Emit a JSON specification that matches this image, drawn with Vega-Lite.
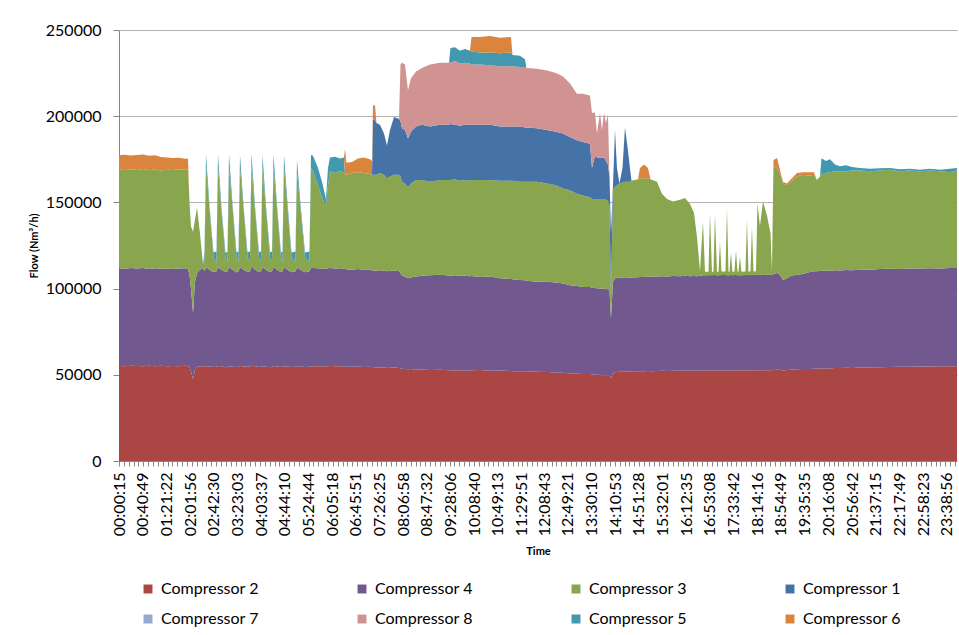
{
"$schema":"https://vega.github.io/schema/vega-lite/v6.json",
"width":838,"height":431,
"autosize":{"type":"none"},
"padding":{"left":119,"top":30,"right":2,"bottom":174},
"background":"white",
"config":{"font":"Lato","view":{"stroke":null}},
"datasets":{
"series":[
{"key":"c2","name":"Compressor 2","rank":1},
{"key":"c4","name":"Compressor 4","rank":2},
{"key":"c3","name":"Compressor 3","rank":3},
{"key":"c1","name":"Compressor 1","rank":4},
{"key":"c7","name":"Compressor 7","rank":5},
{"key":"c8","name":"Compressor 8","rank":6},
{"key":"c5","name":"Compressor 5","rank":7},
{"key":"c6","name":"Compressor 6","rank":8}],
"flows":[
{"t":0,"c2":55200,"c4":56600,"c3":57400,"c1":0,"c7":0,"c8":0,"c5":0,"c6":8100},
{"t":617,"c2":55000,"c4":56500,"c3":57100,"c1":0,"c7":0,"c8":0,"c5":0,"c6":9000},
{"t":1234,"c2":55300,"c4":56700,"c3":57300,"c1":0,"c7":0,"c8":0,"c5":0,"c6":7900},
{"t":1851,"c2":55100,"c4":56500,"c3":57200,"c1":0,"c7":0,"c8":0,"c5":0,"c6":8700},
{"t":2469,"c2":54900,"c4":57000,"c3":57500,"c1":0,"c7":0,"c8":0,"c5":0,"c6":8400},
{"t":3086,"c2":55200,"c4":56200,"c3":57300,"c1":0,"c7":0,"c8":0,"c5":0,"c6":8300},
{"t":3703,"c2":55000,"c4":56800,"c3":57300,"c1":0,"c7":0,"c8":0,"c5":0,"c6":8300},
{"t":4320,"c2":55300,"c4":56200,"c3":57000,"c1":0,"c7":0,"c8":0,"c5":0,"c6":7900},
{"t":4937,"c2":54900,"c4":56800,"c3":57300,"c1":0,"c7":0,"c8":0,"c5":0,"c6":7000},
{"t":5554,"c2":55100,"c4":56200,"c3":57500,"c1":0,"c7":0,"c8":0,"c5":0,"c6":6900},
{"t":6172,"c2":55000,"c4":56600,"c3":57600,"c1":0,"c7":0,"c8":0,"c5":0,"c6":6700},
{"t":6789,"c2":55200,"c4":56600,"c3":57100,"c1":0,"c7":0,"c8":0,"c5":0,"c6":6400},
{"t":7097,"c2":55000,"c4":56500,"c3":57500,"c1":0,"c7":0,"c8":0,"c5":0,"c6":6500},
{"t":7252,"c2":54500,"c4":53500,"c3":42000,"c1":0,"c7":0,"c8":0,"c5":0,"c6":0},
{"t":7406,"c2":52000,"c4":48000,"c3":36000,"c1":0,"c7":0,"c8":0,"c5":0,"c6":0},
{"t":7612,"c2":47500,"c4":38500,"c3":47000,"c1":0,"c7":0,"c8":0,"c5":0,"c6":0},
{"t":7817,"c2":53000,"c4":51000,"c3":36000,"c1":0,"c7":0,"c8":0,"c5":0,"c6":0},
{"t":8023,"c2":54500,"c4":54500,"c3":38000,"c1":0,"c7":0,"c8":0,"c5":0,"c6":0},
{"t":8332,"c2":55000,"c4":56000,"c3":21000,"c1":0,"c7":0,"c8":0,"c5":0,"c6":0},
{"t":8640,"c2":55000,"c4":57000,"c3":2000,"c1":0,"c7":0,"c8":0,"c5":0,"c6":0},
{"t":8795,"c2":54600,"c4":55400,"c3":5500,"c1":0,"c7":0,"c8":0,"c5":6000,"c6":0},
{"t":8949,"c2":55000,"c4":57500,"c3":58500,"c1":0,"c7":0,"c8":0,"c5":7000,"c6":0},
{"t":9309,"c2":54800,"c4":56200,"c3":35000,"c1":0,"c7":0,"c8":0,"c5":2000,"c6":0},
{"t":9720,"c2":54500,"c4":55000,"c3":8500,"c1":0,"c7":0,"c8":0,"c5":3000,"c6":0},
{"t":10029,"c2":54700,"c4":55300,"c3":5200,"c1":0,"c7":0,"c8":0,"c5":6300,"c6":0},
{"t":10183,"c2":55100,"c4":57300,"c3":58000,"c1":0,"c7":0,"c8":0,"c5":7200,"c6":0},
{"t":10543,"c2":54900,"c4":56000,"c3":34000,"c1":0,"c7":0,"c8":0,"c5":2000,"c6":0},
{"t":10955,"c2":54400,"c4":55100,"c3":8000,"c1":0,"c7":0,"c8":0,"c5":3200,"c6":0},
{"t":11160,"c2":54600,"c4":55500,"c3":5600,"c1":0,"c7":0,"c8":0,"c5":5800,"c6":0},
{"t":11315,"c2":54900,"c4":57600,"c3":58300,"c1":0,"c7":0,"c8":0,"c5":7000,"c6":0},
{"t":11675,"c2":54700,"c4":56300,"c3":36000,"c1":0,"c7":0,"c8":0,"c5":2200,"c6":0},
{"t":12086,"c2":54500,"c4":54900,"c3":8700,"c1":0,"c7":0,"c8":0,"c5":2800,"c6":0},
{"t":12292,"c2":54700,"c4":55400,"c3":5400,"c1":0,"c7":0,"c8":0,"c5":6100,"c6":0},
{"t":12446,"c2":55200,"c4":57400,"c3":57800,"c1":0,"c7":0,"c8":0,"c5":7100,"c6":0},
{"t":12806,"c2":54800,"c4":56100,"c3":35500,"c1":0,"c7":0,"c8":0,"c5":2000,"c6":0},
{"t":13218,"c2":54600,"c4":55000,"c3":8300,"c1":0,"c7":0,"c8":0,"c5":3000,"c6":0},
{"t":13475,"c2":54800,"c4":55300,"c3":5500,"c1":0,"c7":0,"c8":0,"c5":6000,"c6":0},
{"t":13629,"c2":55300,"c4":57500,"c3":58500,"c1":0,"c7":0,"c8":0,"c5":7000,"c6":0},
{"t":13989,"c2":54900,"c4":56200,"c3":34500,"c1":0,"c7":0,"c8":0,"c5":2100,"c6":0},
{"t":14400,"c2":54500,"c4":55000,"c3":8600,"c1":0,"c7":0,"c8":0,"c5":3000,"c6":0},
{"t":14606,"c2":54600,"c4":55500,"c3":5300,"c1":0,"c7":0,"c8":0,"c5":6200,"c6":0},
{"t":14760,"c2":55000,"c4":57400,"c3":58000,"c1":0,"c7":0,"c8":0,"c5":7100,"c6":0},
{"t":15120,"c2":54700,"c4":56100,"c3":35000,"c1":0,"c7":0,"c8":0,"c5":2000,"c6":0},
{"t":15532,"c2":54400,"c4":55100,"c3":8400,"c1":0,"c7":0,"c8":0,"c5":3000,"c6":0},
{"t":15738,"c2":54700,"c4":55400,"c3":5500,"c1":0,"c7":0,"c8":0,"c5":6000,"c6":0},
{"t":15892,"c2":55100,"c4":57500,"c3":58200,"c1":0,"c7":0,"c8":0,"c5":7000,"c6":0},
{"t":16252,"c2":54800,"c4":56200,"c3":35500,"c1":0,"c7":0,"c8":0,"c5":2000,"c6":0},
{"t":16663,"c2":54500,"c4":55000,"c3":8500,"c1":0,"c7":0,"c8":0,"c5":3000,"c6":0},
{"t":16818,"c2":54600,"c4":55400,"c3":5600,"c1":0,"c7":0,"c8":0,"c5":6000,"c6":0},
{"t":16972,"c2":55000,"c4":57500,"c3":58000,"c1":0,"c7":0,"c8":0,"c5":7000,"c6":0},
{"t":17332,"c2":54800,"c4":56200,"c3":36000,"c1":0,"c7":0,"c8":0,"c5":3000,"c6":0},
{"t":17743,"c2":54500,"c4":55000,"c3":8500,"c1":0,"c7":0,"c8":0,"c5":3000,"c6":0},
{"t":18155,"c2":54600,"c4":55400,"c3":5500,"c1":0,"c7":0,"c8":0,"c5":6000,"c6":0},
{"t":18309,"c2":55000,"c4":57300,"c3":55500,"c1":0,"c7":0,"c8":0,"c5":7000,"c6":0},
{"t":18669,"c2":54800,"c4":56200,"c3":35000,"c1":0,"c7":0,"c8":0,"c5":3000,"c6":0},
{"t":19132,"c2":54500,"c4":55000,"c3":8500,"c1":0,"c7":0,"c8":0,"c5":3000,"c6":0},
{"t":19595,"c2":54600,"c4":55400,"c3":5500,"c1":0,"c7":0,"c8":0,"c5":6000,"c6":0},
{"t":19749,"c2":55000,"c4":57000,"c3":58000,"c1":0,"c7":0,"c8":0,"c5":7500,"c6":0},
{"t":19955,"c2":55000,"c4":57000,"c3":56000,"c1":0,"c7":0,"c8":0,"c5":9000,"c6":0},
{"t":20469,"c2":55000,"c4":56800,"c3":48200,"c1":0,"c7":0,"c8":0,"c5":10000,"c6":0},
{"t":20880,"c2":54800,"c4":56700,"c3":41500,"c1":0,"c7":0,"c8":0,"c5":9000,"c6":0},
{"t":21292,"c2":55000,"c4":56700,"c3":36300,"c1":0,"c7":0,"c8":0,"c5":4000,"c6":0},
{"t":21497,"c2":55000,"c4":56800,"c3":48200,"c1":0,"c7":0,"c8":0,"c5":10000,"c6":0},
{"t":21703,"c2":55100,"c4":56900,"c3":56000,"c1":0,"c7":0,"c8":0,"c5":8000,"c6":0},
{"t":22218,"c2":54900,"c4":56700,"c3":55400,"c1":0,"c7":0,"c8":0,"c5":9500,"c6":0},
{"t":22732,"c2":55000,"c4":56800,"c3":56200,"c1":0,"c7":0,"c8":0,"c5":7500,"c6":0},
{"t":23144,"c2":54800,"c4":56700,"c3":56000,"c1":0,"c7":0,"c8":0,"c5":8500,"c6":0},
{"t":23246,"c2":54900,"c4":56500,"c3":54600,"c1":0,"c7":0,"c8":0,"c5":0,"c6":15000},
{"t":23401,"c2":54700,"c4":56500,"c3":54800,"c1":0,"c7":0,"c8":0,"c5":0,"c6":7000},
{"t":23966,"c2":54600,"c4":56400,"c3":56000,"c1":0,"c7":0,"c8":0,"c5":0,"c6":6500},
{"t":24583,"c2":54800,"c4":56500,"c3":56200,"c1":0,"c7":0,"c8":0,"c5":0,"c6":8000},
{"t":25201,"c2":54500,"c4":56300,"c3":56200,"c1":0,"c7":0,"c8":0,"c5":0,"c6":9000},
{"t":25818,"c2":54600,"c4":56300,"c3":55600,"c1":0,"c7":0,"c8":0,"c5":0,"c6":8500},
{"t":26023,"c2":54500,"c4":56100,"c3":55400,"c1":0,"c7":0,"c8":0,"c5":0,"c6":8000},
{"t":26126,"c2":54500,"c4":56000,"c3":55500,"c1":32000,"c7":0,"c8":0,"c5":0,"c6":8000},
{"t":26332,"c2":54300,"c4":56100,"c3":55600,"c1":32000,"c7":0,"c8":0,"c5":0,"c6":8500},
{"t":26486,"c2":54400,"c4":56100,"c3":55500,"c1":30000,"c7":0,"c8":0,"c5":0,"c6":0},
{"t":26846,"c2":54200,"c4":56400,"c3":56400,"c1":28000,"c7":0,"c8":0,"c5":0,"c6":0},
{"t":27258,"c2":54300,"c4":56100,"c3":55600,"c1":24000,"c7":0,"c8":0,"c5":0,"c6":0},
{"t":27566,"c2":54000,"c4":56000,"c3":54000,"c1":19000,"c7":0,"c8":0,"c5":0,"c6":0},
{"t":27875,"c2":54100,"c4":56200,"c3":54700,"c1":27000,"c7":0,"c8":0,"c5":0,"c6":0},
{"t":28287,"c2":54200,"c4":56300,"c3":55500,"c1":33500,"c7":0,"c8":0,"c5":0,"c6":0},
{"t":28801,"c2":54000,"c4":56200,"c3":55800,"c1":32500,"c7":0,"c8":0,"c5":0,"c6":0},
{"t":28955,"c2":53800,"c4":55200,"c3":56000,"c1":32000,"c7":0,"c8":33000,"c5":0,"c6":0},
{"t":29109,"c2":53500,"c4":54000,"c3":54500,"c1":31000,"c7":0,"c8":38000,"c5":0,"c6":0},
{"t":29418,"c2":53400,"c4":53600,"c3":54000,"c1":31000,"c7":0,"c8":38000,"c5":0,"c6":0},
{"t":29727,"c2":53200,"c4":52800,"c3":53000,"c1":28000,"c7":0,"c8":28000,"c5":0,"c6":0},
{"t":30035,"c2":53300,"c4":53200,"c3":54500,"c1":30000,"c7":0,"c8":31000,"c5":0,"c6":0},
{"t":30549,"c2":53000,"c4":54000,"c3":56000,"c1":31000,"c7":0,"c8":32000,"c5":0,"c6":0},
{"t":31167,"c2":53100,"c4":54400,"c3":55500,"c1":32000,"c7":0,"c8":33000,"c5":0,"c6":0},
{"t":31989,"c2":52800,"c4":55000,"c3":54200,"c1":32000,"c7":0,"c8":36000,"c5":0,"c6":0},
{"t":33018,"c2":52900,"c4":55100,"c3":55000,"c1":32000,"c7":0,"c8":36000,"c5":0,"c6":0},
{"t":33944,"c2":52600,"c4":55000,"c3":55400,"c1":32000,"c7":0,"c8":36000,"c5":0,"c6":0},
{"t":34098,"c2":52700,"c4":54800,"c3":55500,"c1":32500,"c7":0,"c8":35500,"c5":8500,"c6":0},
{"t":34561,"c2":52500,"c4":55300,"c3":55700,"c1":31500,"c7":0,"c8":37000,"c5":8000,"c6":0},
{"t":35075,"c2":52600,"c4":54800,"c3":55100,"c1":32000,"c7":0,"c8":36000,"c5":7500,"c6":0},
{"t":35590,"c2":52400,"c4":55100,"c3":55500,"c1":32000,"c7":0,"c8":36000,"c5":8000,"c6":0},
{"t":36104,"c2":52500,"c4":54700,"c3":55300,"c1":32500,"c7":0,"c8":35500,"c5":7500,"c6":0},
{"t":36258,"c2":52600,"c4":54700,"c3":55700,"c1":32000,"c7":0,"c8":35000,"c5":7500,"c6":8500},
{"t":37132,"c2":52800,"c4":54000,"c3":56200,"c1":32000,"c7":0,"c8":35000,"c5":7000,"c6":9000},
{"t":38161,"c2":52400,"c4":54600,"c3":56000,"c1":32000,"c7":0,"c8":34500,"c5":7500,"c6":9500},
{"t":39190,"c2":52500,"c4":53500,"c3":56500,"c1":31500,"c7":0,"c8":35000,"c5":7500,"c6":9000},
{"t":40321,"c2":52200,"c4":53300,"c3":57000,"c1":31500,"c7":0,"c8":35000,"c5":8000,"c6":9000},
{"t":40475,"c2":52100,"c4":53300,"c3":57100,"c1":31500,"c7":0,"c8":35000,"c5":6500,"c6":0},
{"t":41247,"c2":52000,"c4":53000,"c3":57000,"c1":32000,"c7":0,"c8":34500,"c5":6500,"c6":0},
{"t":41761,"c2":52100,"c4":52700,"c3":57200,"c1":31500,"c7":0,"c8":35000,"c5":4500,"c6":0},
{"t":41915,"c2":52000,"c4":52600,"c3":57400,"c1":31500,"c7":0,"c8":34500,"c5":0,"c6":0},
{"t":42995,"c2":51800,"c4":52200,"c3":58000,"c1":31000,"c7":0,"c8":34500,"c5":0,"c6":0},
{"t":44024,"c2":51600,"c4":52400,"c3":57000,"c1":31000,"c7":0,"c8":34500,"c5":0,"c6":0},
{"t":44950,"c2":51400,"c4":52100,"c3":56500,"c1":31000,"c7":0,"c8":34000,"c5":0,"c6":0},
{"t":45670,"c2":51200,"c4":51800,"c3":55000,"c1":32000,"c7":0,"c8":33000,"c5":0,"c6":0},
{"t":46390,"c2":50800,"c4":51200,"c3":55000,"c1":31000,"c7":0,"c8":31000,"c5":0,"c6":0},
{"t":47110,"c2":50600,"c4":50900,"c3":53500,"c1":31000,"c7":0,"c8":27000,"c5":0,"c6":0},
{"t":47727,"c2":50500,"c4":50500,"c3":53000,"c1":31000,"c7":0,"c8":28000,"c5":0,"c6":0},
{"t":48447,"c2":50400,"c4":50600,"c3":52000,"c1":31000,"c7":0,"c8":28000,"c5":0,"c6":0},
{"t":48653,"c2":50200,"c4":50300,"c3":51500,"c1":18000,"c7":0,"c8":32000,"c5":0,"c6":0},
{"t":48961,"c2":50000,"c4":50300,"c3":51700,"c1":25000,"c7":0,"c8":25000,"c5":0,"c6":0},
{"t":49167,"c2":50000,"c4":50200,"c3":51800,"c1":24000,"c7":0,"c8":14000,"c5":0,"c6":0},
{"t":49476,"c2":49900,"c4":50100,"c3":52000,"c1":24000,"c7":0,"c8":26000,"c5":0,"c6":0},
{"t":49681,"c2":49800,"c4":50200,"c3":52000,"c1":24000,"c7":0,"c8":16000,"c5":0,"c6":0},
{"t":49887,"c2":49800,"c4":50200,"c3":52000,"c1":24000,"c7":0,"c8":26000,"c5":0,"c6":0},
{"t":50093,"c2":49700,"c4":50100,"c3":51700,"c1":22500,"c7":0,"c8":22000,"c5":0,"c6":0},
{"t":50299,"c2":49600,"c4":49900,"c3":51500,"c1":21000,"c7":0,"c8":29000,"c5":0,"c6":0},
{"t":50453,"c2":49500,"c4":49500,"c3":49000,"c1":17000,"c7":0,"c8":0,"c5":0,"c6":0},
{"t":50607,"c2":48000,"c4":35000,"c3":12000,"c1":37000,"c7":0,"c8":0,"c5":0,"c6":0},
{"t":50813,"c2":51000,"c4":53000,"c3":53000,"c1":3000,"c7":0,"c8":0,"c5":0,"c6":0},
{"t":51019,"c2":51500,"c4":54500,"c3":53000,"c1":33000,"c7":0,"c8":0,"c5":0,"c6":0},
{"t":51224,"c2":51600,"c4":54600,"c3":53800,"c1":10000,"c7":0,"c8":0,"c5":0,"c6":0},
{"t":51481,"c2":51700,"c4":54700,"c3":54600,"c1":0,"c7":0,"c8":0,"c5":0,"c6":0},
{"t":51790,"c2":51800,"c4":54700,"c3":55000,"c1":8500,"c7":0,"c8":0,"c5":0,"c6":0},
{"t":52047,"c2":51800,"c4":54800,"c3":55400,"c1":31500,"c7":0,"c8":0,"c5":0,"c6":0},
{"t":52356,"c2":51900,"c4":54600,"c3":55500,"c1":18000,"c7":0,"c8":0,"c5":0,"c6":0},
{"t":52561,"c2":51900,"c4":54500,"c3":55600,"c1":8000,"c7":0,"c8":0,"c5":0,"c6":0},
{"t":52716,"c2":52000,"c4":54500,"c3":56000,"c1":0,"c7":0,"c8":0,"c5":0,"c6":0},
{"t":53385,"c2":52000,"c4":54600,"c3":56900,"c1":0,"c7":0,"c8":0,"c5":0,"c6":0},
{"t":53590,"c2":52100,"c4":54700,"c3":57200,"c1":0,"c7":0,"c8":0,"c5":0,"c6":6000},
{"t":54002,"c2":52000,"c4":54700,"c3":57300,"c1":0,"c7":0,"c8":0,"c5":0,"c6":8000},
{"t":54413,"c2":52200,"c4":54700,"c3":57100,"c1":0,"c7":0,"c8":0,"c5":0,"c6":6000},
{"t":54670,"c2":52100,"c4":54900,"c3":56500,"c1":0,"c7":0,"c8":0,"c5":0,"c6":0},
{"t":55339,"c2":52200,"c4":54800,"c3":55000,"c1":0,"c7":0,"c8":0,"c5":0,"c6":0},
{"t":55853,"c2":52300,"c4":54900,"c3":47800,"c1":0,"c7":0,"c8":0,"c5":0,"c6":0},
{"t":56367,"c2":52200,"c4":54800,"c3":45000,"c1":0,"c7":0,"c8":0,"c5":0,"c6":0},
{"t":56984,"c2":52400,"c4":54900,"c3":43200,"c1":0,"c7":0,"c8":0,"c5":0,"c6":0},
{"t":57704,"c2":52300,"c4":54800,"c3":44400,"c1":0,"c7":0,"c8":0,"c5":0,"c6":0},
{"t":58219,"c2":52500,"c4":54900,"c3":45100,"c1":0,"c7":0,"c8":0,"c5":0,"c6":0},
{"t":58733,"c2":52400,"c4":54800,"c3":41800,"c1":0,"c7":0,"c8":0,"c5":0,"c6":0},
{"t":59146,"c2":52500,"c4":54800,"c3":36700,"c1":0,"c7":0,"c8":0,"c5":0,"c6":0},
{"t":59453,"c2":52400,"c4":54800,"c3":22800,"c1":0,"c7":0,"c8":0,"c5":0,"c6":0},
{"t":59762,"c2":52500,"c4":55000,"c3":2500,"c1":0,"c7":0,"c8":0,"c5":0,"c6":0},
{"t":60070,"c2":52600,"c4":55200,"c3":31000,"c1":0,"c7":0,"c8":0,"c5":0,"c6":0},
{"t":60276,"c2":52500,"c4":55300,"c3":2000,"c1":0,"c7":0,"c8":0,"c5":0,"c6":0},
{"t":60636,"c2":52400,"c4":55400,"c3":2000,"c1":0,"c7":0,"c8":0,"c5":0,"c6":0},
{"t":60790,"c2":52600,"c4":55300,"c3":36000,"c1":0,"c7":0,"c8":0,"c5":0,"c6":0},
{"t":60996,"c2":52500,"c4":55200,"c3":2000,"c1":0,"c7":0,"c8":0,"c5":0,"c6":0},
{"t":61150,"c2":52600,"c4":55300,"c3":2000,"c1":0,"c7":0,"c8":0,"c5":0,"c6":0},
{"t":61305,"c2":52500,"c4":55400,"c3":34900,"c1":0,"c7":0,"c8":0,"c5":0,"c6":0},
{"t":61510,"c2":52400,"c4":55300,"c3":2000,"c1":0,"c7":0,"c8":0,"c5":0,"c6":0},
{"t":61665,"c2":52600,"c4":55200,"c3":2000,"c1":0,"c7":0,"c8":0,"c5":0,"c6":0},
{"t":61819,"c2":52500,"c4":55300,"c3":19200,"c1":0,"c7":0,"c8":0,"c5":0,"c6":0},
{"t":61973,"c2":52500,"c4":55400,"c3":2000,"c1":0,"c7":0,"c8":0,"c5":0,"c6":0},
{"t":62385,"c2":52600,"c4":55300,"c3":2000,"c1":0,"c7":0,"c8":0,"c5":0,"c6":0},
{"t":62539,"c2":52500,"c4":55200,"c3":38900,"c1":0,"c7":0,"c8":0,"c5":0,"c6":0},
{"t":62693,"c2":52400,"c4":55400,"c3":2000,"c1":0,"c7":0,"c8":0,"c5":0,"c6":0},
{"t":62796,"c2":52500,"c4":55300,"c3":2000,"c1":0,"c7":0,"c8":0,"c5":0,"c6":0},
{"t":62950,"c2":52600,"c4":55300,"c3":12800,"c1":0,"c7":0,"c8":0,"c5":0,"c6":0},
{"t":63105,"c2":52500,"c4":55200,"c3":2000,"c1":0,"c7":0,"c8":0,"c5":0,"c6":0},
{"t":63310,"c2":52500,"c4":55400,"c3":2000,"c1":0,"c7":0,"c8":0,"c5":0,"c6":0},
{"t":63465,"c2":52600,"c4":55300,"c3":14200,"c1":0,"c7":0,"c8":0,"c5":0,"c6":0},
{"t":63619,"c2":52500,"c4":55300,"c3":2000,"c1":0,"c7":0,"c8":0,"c5":0,"c6":0},
{"t":63722,"c2":52400,"c4":55400,"c3":2000,"c1":0,"c7":0,"c8":0,"c5":0,"c6":0},
{"t":63876,"c2":52500,"c4":55300,"c3":10700,"c1":0,"c7":0,"c8":0,"c5":0,"c6":0},
{"t":64030,"c2":52600,"c4":55200,"c3":2000,"c1":0,"c7":0,"c8":0,"c5":0,"c6":0},
{"t":64442,"c2":52500,"c4":55400,"c3":2000,"c1":0,"c7":0,"c8":0,"c5":0,"c6":0},
{"t":64596,"c2":52600,"c4":55300,"c3":32000,"c1":0,"c7":0,"c8":0,"c5":0,"c6":0},
{"t":64750,"c2":52500,"c4":55300,"c3":2000,"c1":0,"c7":0,"c8":0,"c5":0,"c6":0},
{"t":64956,"c2":52600,"c4":55400,"c3":2000,"c1":0,"c7":0,"c8":0,"c5":0,"c6":0},
{"t":65110,"c2":52500,"c4":55300,"c3":28100,"c1":0,"c7":0,"c8":0,"c5":0,"c6":0},
{"t":65265,"c2":52600,"c4":55300,"c3":2000,"c1":0,"c7":0,"c8":0,"c5":0,"c6":0},
{"t":65522,"c2":52700,"c4":55400,"c3":2000,"c1":0,"c7":0,"c8":0,"c5":0,"c6":0},
{"t":65676,"c2":52600,"c4":55300,"c3":41600,"c1":0,"c7":0,"c8":0,"c5":0,"c6":0},
{"t":65933,"c2":52700,"c4":55400,"c3":28200,"c1":0,"c7":0,"c8":0,"c5":0,"c6":0},
{"t":66242,"c2":52600,"c4":55300,"c3":42600,"c1":0,"c7":0,"c8":0,"c5":0,"c6":0},
{"t":66653,"c2":52700,"c4":55400,"c3":34200,"c1":0,"c7":0,"c8":0,"c5":0,"c6":0},
{"t":67013,"c2":52700,"c4":55300,"c3":24200,"c1":0,"c7":0,"c8":0,"c5":0,"c6":0},
{"t":67168,"c2":52700,"c4":55400,"c3":2000,"c1":0,"c7":0,"c8":0,"c5":0,"c6":0},
{"t":67322,"c2":52800,"c4":55700,"c3":62500,"c1":0,"c7":0,"c8":0,"c5":0,"c6":3600},
{"t":67682,"c2":53000,"c4":56000,"c3":61000,"c1":0,"c7":0,"c8":0,"c5":0,"c6":5700},
{"t":67991,"c2":52900,"c4":55100,"c3":59000,"c1":0,"c7":0,"c8":0,"c5":0,"c6":2000},
{"t":68299,"c2":52500,"c4":52500,"c3":56000,"c1":0,"c7":0,"c8":0,"c5":0,"c6":1000},
{"t":68710,"c2":52800,"c4":53200,"c3":54000,"c1":0,"c7":0,"c8":0,"c5":0,"c6":1000},
{"t":69122,"c2":53000,"c4":54500,"c3":54500,"c1":0,"c7":0,"c8":0,"c5":0,"c6":1500},
{"t":69739,"c2":53200,"c4":54800,"c3":57000,"c1":0,"c7":0,"c8":0,"c5":0,"c6":2000},
{"t":70356,"c2":53300,"c4":55200,"c3":57500,"c1":0,"c7":0,"c8":0,"c5":0,"c6":1500},
{"t":70973,"c2":53400,"c4":56100,"c3":56000,"c1":0,"c7":0,"c8":0,"c5":0,"c6":2000},
{"t":71488,"c2":53500,"c4":56500,"c3":56000,"c1":0,"c7":0,"c8":0,"c5":0,"c6":1500},
{"t":71796,"c2":53500,"c4":56500,"c3":53000,"c1":0,"c7":0,"c8":0,"c5":0,"c6":0},
{"t":72105,"c2":53600,"c4":56600,"c3":54800,"c1":0,"c7":0,"c8":0,"c5":0,"c6":0},
{"t":72259,"c2":53700,"c4":56600,"c3":56700,"c1":0,"c7":0,"c8":0,"c5":8600,"c6":0},
{"t":72722,"c2":53800,"c4":56700,"c3":56500,"c1":0,"c7":0,"c8":0,"c5":7000,"c6":0},
{"t":73133,"c2":53700,"c4":56700,"c3":57100,"c1":0,"c7":0,"c8":0,"c5":7500,"c6":0},
{"t":73648,"c2":53900,"c4":56700,"c3":57400,"c1":0,"c7":0,"c8":0,"c5":4000,"c6":0},
{"t":74162,"c2":54000,"c4":56500,"c3":57500,"c1":0,"c7":0,"c8":0,"c5":3000,"c6":0},
{"t":74779,"c2":54100,"c4":56700,"c3":57200,"c1":0,"c7":0,"c8":0,"c5":3500,"c6":0},
{"t":75396,"c2":54000,"c4":56700,"c3":57800,"c1":0,"c7":0,"c8":0,"c5":2000,"c6":0},
{"t":76219,"c2":54200,"c4":56700,"c3":57600,"c1":0,"c7":0,"c8":0,"c5":1500,"c6":0},
{"t":77248,"c2":54300,"c4":56700,"c3":57000,"c1":0,"c7":0,"c8":0,"c5":1500,"c6":0},
{"t":78276,"c2":54400,"c4":56900,"c3":57200,"c1":0,"c7":0,"c8":0,"c5":1300,"c6":0},
{"t":79305,"c2":54500,"c4":57000,"c3":57500,"c1":0,"c7":0,"c8":0,"c5":1000,"c6":0},
{"t":80334,"c2":54600,"c4":56800,"c3":56600,"c1":0,"c7":0,"c8":0,"c5":1300,"c6":0},
{"t":81362,"c2":54700,"c4":57000,"c3":56800,"c1":0,"c7":0,"c8":0,"c5":1000,"c6":0},
{"t":82391,"c2":54800,"c4":56800,"c3":56400,"c1":0,"c7":0,"c8":0,"c5":1000,"c6":0},
{"t":83419,"c2":54800,"c4":57000,"c3":56700,"c1":0,"c7":0,"c8":0,"c5":1000,"c6":0},
{"t":84448,"c2":54900,"c4":56800,"c3":56300,"c1":0,"c7":0,"c8":0,"c5":1000,"c6":0},
{"t":85477,"c2":55000,"c4":56900,"c3":55600,"c1":0,"c7":0,"c8":0,"c5":2000,"c6":0},
{"t":86200,"c2":55000,"c4":57000,"c3":56500,"c1":0,"c7":0,"c8":0,"c5":1500,"c6":0}
]},
"data":{"name":"flows"},
"transform":[
{"fold":["c2","c4","c3","c1","c7","c8","c5","c6"],"as":["key","flow"]},
{"lookup":"key","from":{"data":{"name":"series"},"key":"key","fields":["name","rank"]}}
],
"resolve":{"axis":{"x":"independent"}},
"layer":[
{"mark":{"type":"area","interpolate":"linear"},
 "encoding":{
  "x":{"field":"t","type":"quantitative","scale":{"domain":[0,86200],"nice":false,"zero":false},
   "axis":{"orient":"bottom","values":[15,2449,4882,7316,9750,12183,14617,17050,19484,21918,24351,26785,29218,31652,34086,36520,38953,41391,43723,46161,48610,51053,53488,55921,58355,60788,63222,65656,68089,70535,72968,75402,77835,80269,82703,85136],
    "labelExpr":"utcFormat(datum.value*1000,'%H:%M:%S')","labelAngle":270,"labelFont":"Lato","labelFontSize":16,"labelColor":"#000000","labelPadding":11,"labelOverlap":false,"labelFlush":false,
    "ticks":false,"domain":true,"domainColor":"#868686","grid":false,
    "title":"Time","titleFont":"Lato","titleFontSize":11,"titleFontWeight":"bold","titleColor":"#000000","titlePadding":10}},
  "y":{"field":"flow","type":"quantitative","stack":"zero","scale":{"domain":[0,250000],"nice":false},
   "axis":{"values":[0,50000,100000,150000,200000,250000],"format":"d","labelFont":"Lato","labelFontSize":16,"labelColor":"#000000","labelPadding":12,"tickSize":6,"tickColor":"#868686","domainColor":"#868686","grid":true,"gridColor":"#b3b3b3",
    "title":"Flow (Nm³/h)","titleFont":"Lato","titleFontSize":11,"titleFontWeight":"bold","titleColor":"#000000","titlePadding":6}},
  "color":{"field":"name","type":"nominal",
   "scale":{"domain":["Compressor 2","Compressor 4","Compressor 3","Compressor 1","Compressor 7","Compressor 8","Compressor 5","Compressor 6"],
            "range":["#AA4643","#71588F","#89A54E","#4572A7","#93A9CF","#D19392","#4198AF","#DB843D"]},
   "legend":{"orient":"none","legendX":21,"legendY":551,"direction":"horizontal","columns":4,"title":null,"symbolType":"square","symbolSize":80,"symbolStrokeWidth":0,"symbolOpacity":1,"labelFont":"Lato","labelFontSize":16,"labelColor":"#000000","columnPadding":95,"rowPadding":14,"padding":0,"labelOffset":5}},
  "order":{"field":"rank","type":"quantitative"}
 }},
{"transform":[{"filter":"datum.key == 'c2'"}],
 "mark":{"type":"rule","opacity":0},
 "encoding":{
  "x":{"field":"t","type":"quantitative",
   "axis":{"orient":"bottom","tickCount":200,"labels":false,"ticks":true,"tickSize":5,"tickColor":"#868686","domain":false,"grid":false,"title":null}}
 }}
]
}
